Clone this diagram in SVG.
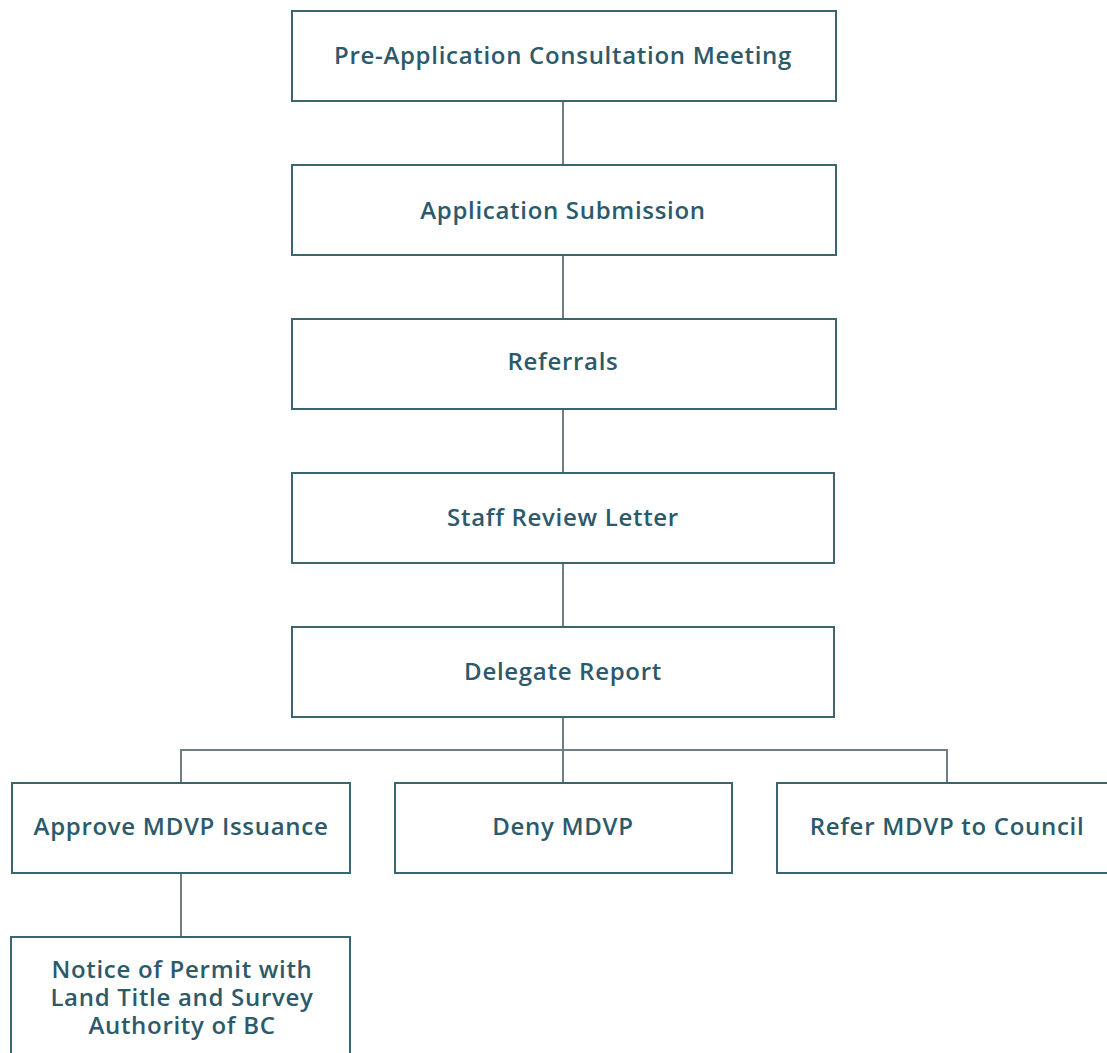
<svg xmlns="http://www.w3.org/2000/svg" width="1107" height="1053" viewBox="0 0 1107 1053">
<style>
.box{fill:#fff;stroke:#3b6670;stroke-width:2}
.lbl{font-family:"Open Sans","Noto Sans",sans-serif;font-weight:600;font-size:24px;letter-spacing:0.7px;fill:#2c5a6b;text-anchor:middle}
.con{fill:none;stroke:#6f8085;stroke-width:2}
</style>
<rect width="1107" height="1053" fill="#fff"/>
<g id="connectors">
<path class="con" d="M563 101V165M563 255V319M563 409V473M563 563V627M563 717V783M181 750H947M181 749V783M947 749V783M181 873V937"/>
</g>
<g id="n1"><rect class="box" x="292" y="11" width="544" height="90"/><text class="lbl" x="563" y="64">Pre-Application Consultation Meeting</text></g>
<g id="n2"><rect class="box" x="292" y="165" width="544" height="90"/><text class="lbl" x="563" y="219">Application Submission</text></g>
<g id="n3"><rect class="box" x="292" y="319" width="544" height="90"/><text class="lbl" x="563" y="370">Referrals</text></g>
<g id="n4"><rect class="box" x="292" y="473" width="542" height="90"/><text class="lbl" x="563" y="526">Staff Review Letter</text></g>
<g id="n5"><rect class="box" x="292" y="627" width="542" height="90"/><text class="lbl" x="563" y="680">Delegate Report</text></g>
<g id="n6"><rect class="box" x="12" y="783" width="338" height="90"/><text class="lbl" x="181" y="835">Approve MDVP Issuance</text></g>
<g id="n7"><rect class="box" x="395" y="783" width="337" height="90"/><text class="lbl" x="563" y="835">Deny MDVP</text></g>
<g id="n8"><rect class="box" x="777" y="783" width="340" height="90"/><text class="lbl" x="947" y="835">Refer MDVP to Council</text></g>
<g id="n9"><rect class="box" x="11" y="937" width="339" height="130"/><text class="lbl"><tspan x="182" y="978">Notice of Permit with</tspan><tspan x="182" y="1006">Land Title and Survey</tspan><tspan x="182" y="1034">Authority of BC</tspan></text></g>
</svg>
